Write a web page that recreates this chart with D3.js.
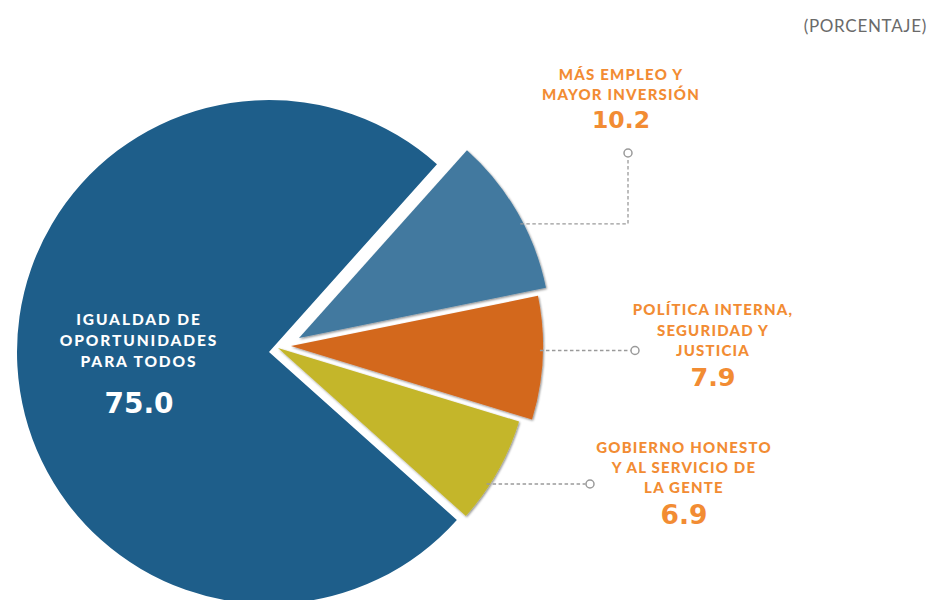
<!DOCTYPE html>
<html>
<head>
<meta charset="utf-8">
<script src="https://cdn.jsdelivr.net/npm/d3@7"></script>
<style>
  html, body { margin: 0; padding: 0; background: #ffffff; }
  svg { display: block; }
</style>
</head>
<body>
<svg id="chart" width="934" height="600"></svg>
<script>
// ---- data ----
const categories = [
  "IGUALDAD DE OPORTUNIDADES PARA TODOS",
  "MÁS EMPLEO Y MAYOR INVERSIÓN",
  "POLÍTICA INTERNA, SEGURIDAD Y JUSTICIA",
  "GOBIERNO HONESTO Y AL SERVICIO DE LA GENTE"
];
const labelLines = [
  ["IGUALDAD DE", "OPORTUNIDADES", "PARA TODOS"],
  ["MÁS EMPLEO Y", "MAYOR INVERSIÓN"],
  ["POLÍTICA INTERNA,", "SEGURIDAD Y", "JUSTICIA"],
  ["GOBIERNO HONESTO", "Y AL SERVICIO DE", "LA GENTE"]
];
const values = [75.0, 10.2, 7.9, 6.9];
const unitLabel = "(PORCENTAJE)";

// ---- styling / layout ----
const sliceColors = ["#1e5e8a", "#42799f", "#d3681e", "#c4b62b"];
const labelColors = ["#ffffff", "#f28c33", "#f28c33", "#f28c33"];
const center = [272, 350];
const radius = 252;
const startDeg = 131.8;
// each wedge is pulled slightly away from the centre
const sliceShift = [[-3, 2], [27, -12], [19, -4], [6, -2]];
// label blocks: centre x, first baseline, line step, name size/spacing, value baseline/size
const labelLayout = [
  { x: 139, y: 325, step: 21,   size: 15.5, ls: 1.9, vy: 413, vsize: 28 },
  { x: 621, y: 80,  step: 19.5, size: 15,   ls: 1.2, vy: 128, vsize: 23.5 },
  { x: 713, y: 315, step: 20.5, size: 15,   ls: 1.2, vy: 386, vsize: 25.5 },
  { x: 684, y: 453, step: 20,   size: 15,   ls: 1.2, vy: 524, vsize: 26.5 }
];
// leader lines: fraction along the wedge's arc, elbow/end x, optional end y
const leaderLayout = [
  null,
  { f: 0.57, x: 628, endY: 153 },
  { f: 0.44, x: 635, endY: null },
  { f: 0.65, x: 590, endY: null }
];

const svg = d3.select("#chart");
const defs = svg.append("defs");
const shadow = defs.append("filter").attr("id", "soft")
  .attr("x", "-10%").attr("y", "-10%").attr("width", "120%").attr("height", "120%");
shadow.append("feDropShadow")
  .attr("dx", 1).attr("dy", 1.2).attr("stdDeviation", 0.9)
  .attr("flood-color", "#000").attr("flood-opacity", 0.45);

const rad = d => d * Math.PI / 180;
const pie = d3.pie().sort(null).value(d => d)
  .startAngle(rad(startDeg)).endAngle(rad(startDeg) + 2 * Math.PI);
const arc = d3.arc().innerRadius(0).outerRadius(radius);
const arcs = pie(values);

const slices = svg.append("g").attr("class", "slices");
slices.selectAll("path")
  .data(arcs)
  .join("path")
  .attr("transform", (d, i) => `translate(${center[0] + sliceShift[i][0]},${center[1] + sliceShift[i][1]})`)
  .attr("d", arc)
  .attr("fill", (d, i) => sliceColors[i])
  .attr("filter", (d, i) => i === 0 ? null : "url(#soft)");

// leader lines with a small ring at their ends
const leaders = svg.append("g").attr("class", "leaders");
arcs.forEach((d, i) => {
  const L = leaderLayout[i];
  if (!L) return;
  const a = d.startAngle + L.f * (d.endAngle - d.startAngle);
  const r = radius - 3;
  const x0 = center[0] + sliceShift[i][0] + r * Math.sin(a);
  const y0 = center[1] + sliceShift[i][1] - r * Math.cos(a);
  const pts = L.endY == null
    ? [[x0, y0], [L.x - 4.5, y0]]
    : [[x0, y0], [L.x, y0], [L.x, L.endY + 4.5]];
  leaders.append("path")
    .attr("d", d3.line()(pts))
    .attr("fill", "none")
    .attr("stroke", "#9a9a9a")
    .attr("stroke-width", 1.3)
    .attr("stroke-dasharray", "3.5,2.5");
  leaders.append("circle")
    .attr("cx", L.x)
    .attr("cy", L.endY == null ? y0 : L.endY)
    .attr("r", 4)
    .attr("fill", "#fff")
    .attr("stroke", "#9a9a9a")
    .attr("stroke-width", 1.5);
});

// category names and values
const labels = svg.append("g").attr("class", "labels")
  .attr("text-anchor", "middle");
labelLines.forEach((lines, i) => {
  const P = labelLayout[i];
  const g = labels.append("g").attr("fill", labelColors[i]);
  lines.forEach((t, k) => {
    g.append("text")
      .attr("x", P.x).attr("y", P.y + k * P.step)
      .attr("font-family", "Lato, 'Open Sans', sans-serif")
      .attr("font-size", P.size).attr("font-weight", 900)
      .attr("letter-spacing", P.ls)
      .text(t);
  });
  g.append("text")
    .attr("x", P.x).attr("y", P.vy)
    .attr("font-family", "'DejaVu Sans', sans-serif")
    .attr("font-size", P.vsize).attr("font-weight", 700)
    .text(values[i].toFixed(1));
});

svg.append("text")
  .attr("x", 927).attr("y", 32)
  .attr("text-anchor", "end")
  .attr("font-family", "Lato, 'Open Sans', sans-serif")
  .attr("font-size", 17)
  .attr("letter-spacing", 0.7)
  .attr("fill", "#6a6a6a")
  .text(unitLabel);
</script>
</body>
</html>
